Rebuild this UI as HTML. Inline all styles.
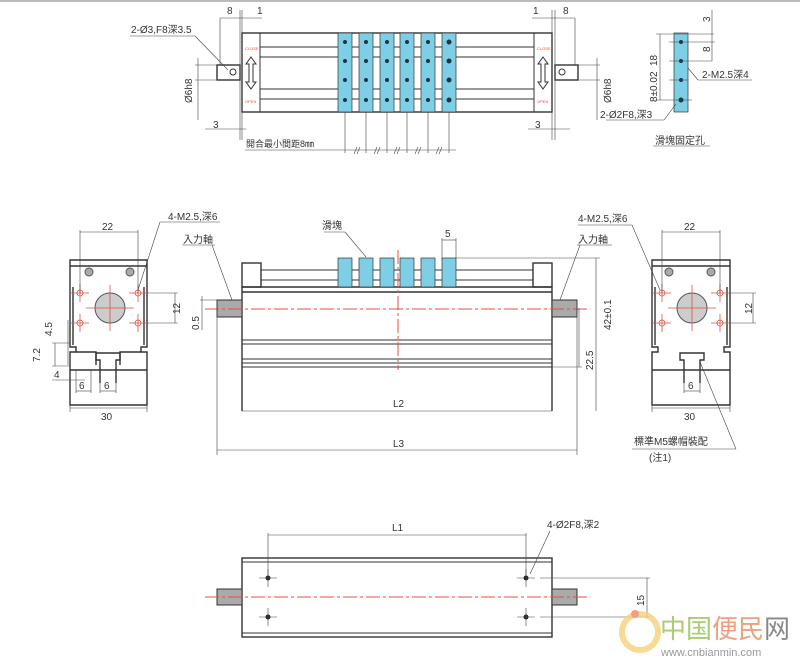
<!DOCTYPE html>
<html><head><meta charset="utf-8"><style>
html,body{margin:0;padding:0;background:#fff;}
svg{display:block;font-family:"Liberation Sans","Noto Sans CJK TC",sans-serif;}
.l{stroke:#333;stroke-width:1;fill:none}
.t{stroke:#444;stroke-width:.6;fill:none}
.b{stroke:#333;stroke-width:1.4;fill:none}
.c{stroke:#e05040;stroke-width:1;fill:none;stroke-dasharray:14 3 3 3}
.r{stroke:#e05040;stroke-width:.8;fill:none}
text{font-size:10px;fill:#333}
</style></head><body>
<svg width="800" height="664" viewBox="0 0 800 664">
<rect x="0" y="0" width="800" height="2" fill="#bbb"/>
<!-- ===== TOP VIEW ===== -->
<rect x="242" y="33" width="310" height="79" class="b"/>
<line x1="260" y1="33" x2="260" y2="112" class="l"/>
<line x1="534" y1="33" x2="534" y2="112" class="l"/>
<g class="l"><line x1="260" y1="47" x2="534" y2="47"/><line x1="260" y1="57" x2="534" y2="57"/><line x1="260" y1="89" x2="534" y2="89"/><line x1="260" y1="99" x2="534" y2="99"/></g>
<g fill="#7ecfe6" stroke="#333" stroke-width=".7">
<rect x="338" y="33" width="14" height="79"/><rect x="359" y="33" width="14" height="79"/><rect x="380" y="33" width="14" height="79"/><rect x="400" y="33" width="14" height="79"/><rect x="421" y="33" width="14" height="79"/><rect x="442" y="33" width="14" height="79"/>
</g>
<g fill="#234">
<circle cx="345" cy="42" r="2"/><circle cx="345" cy="61" r="2"/><circle cx="345" cy="80" r="2"/><circle cx="345" cy="100" r="2"/>
<circle cx="366" cy="42" r="2"/><circle cx="366" cy="61" r="2"/><circle cx="366" cy="80" r="2"/><circle cx="366" cy="100" r="2"/>
<circle cx="387" cy="42" r="2"/><circle cx="387" cy="61" r="2"/><circle cx="387" cy="80" r="2"/><circle cx="387" cy="100" r="2"/>
<circle cx="407" cy="42" r="2"/><circle cx="407" cy="61" r="2"/><circle cx="407" cy="80" r="2"/><circle cx="407" cy="100" r="2"/>
<circle cx="428" cy="42" r="2"/><circle cx="428" cy="61" r="2"/><circle cx="428" cy="80" r="2"/><circle cx="428" cy="100" r="2"/>
<circle cx="449" cy="42" r="2.5"/><circle cx="449" cy="61" r="2.5"/><circle cx="449" cy="80" r="2.5"/><circle cx="449" cy="100" r="2.5"/>
</g>
<!-- arrows open/close -->
<g class="l"><path d="M251 57 L256 64 L253 64 L253 82 L256 82 L251 89 L246 82 L249 82 L249 64 L246 64 Z"/>
<path d="M543 57 L548 64 L545 64 L545 82 L548 82 L543 89 L538 82 L541 82 L541 64 L538 64 Z"/></g>
<text x="245" y="50" style="font-size:4px;fill:#e05040">CLOSE</text><text x="245" y="103" style="font-size:4px;fill:#e05040">OPEN</text>
<text x="537" y="50" style="font-size:4px;fill:#e05040">CLOSE</text><text x="537" y="103" style="font-size:4px;fill:#e05040">OPEN</text>
<!-- knobs -->
<rect x="217" y="65" width="23" height="15" class="b"/><circle cx="233" cy="72" r="3" class="l"/>
<rect x="555" y="65" width="23" height="15" class="b"/><circle cx="562" cy="72" r="3" class="l"/>
<!-- top dims -->
<g class="t">
<line x1="220" y1="18" x2="220" y2="65"/><line x1="240" y1="10" x2="240" y2="140"/><line x1="242" y1="10" x2="242" y2="140"/><line x1="220" y1="18" x2="262" y2="18"/>
<line x1="555" y1="10" x2="555" y2="140"/><line x1="552" y1="10" x2="552" y2="140"/><line x1="575" y1="18" x2="575" y2="65"/><line x1="532" y1="18" x2="575" y2="18"/>
<line x1="195" y1="65" x2="217" y2="65"/><line x1="195" y1="80" x2="217" y2="80"/><line x1="198" y1="58" x2="198" y2="120"/>
<line x1="578" y1="65" x2="600" y2="65"/><line x1="578" y1="80" x2="600" y2="80"/><line x1="597" y1="58" x2="597" y2="120"/>
<line x1="205" y1="129" x2="246" y2="129"/><line x1="528" y1="129" x2="570" y2="129"/>
<line x1="130" y1="36" x2="195" y2="36"/><line x1="195" y1="36" x2="228" y2="70"/>
<line x1="245" y1="150" x2="456" y2="150"/>
<line x1="345" y1="112" x2="345" y2="153"/><line x1="366" y1="112" x2="366" y2="153"/><line x1="387" y1="112" x2="387" y2="153"/><line x1="407" y1="112" x2="407" y2="153"/><line x1="428" y1="112" x2="428" y2="153"/><line x1="449" y1="112" x2="449" y2="153"/>
</g>
<g class="t"><path d="M354 154 l3 -7 M357 154 l3 -7 M374 154 l3 -7 M377 154 l3 -7 M394 154 l3 -7 M397 154 l3 -7 M415 154 l3 -7 M418 154 l3 -7 M436 154 l3 -7 M439 154 l3 -7"/></g>
<text x="227" y="14">8</text><text x="257" y="14">1</text><text x="533" y="14">1</text><text x="563" y="14">8</text>
<text x="213" y="128">3</text><text x="535" y="128">3</text>
<text x="131" y="33">2-Ø3,F8深3.5</text>
<text x="246" y="147" style="font-size:9px">開合最小間距8㎜</text>
<text transform="translate(192,103) rotate(-90)">Ø6h8</text>
<text transform="translate(611,103) rotate(-90)">Ø6h8</text>
<!-- slider fixing hole -->
<rect x="674" y="33" width="14" height="79" fill="#7ecfe6" stroke="#333" stroke-width=".7"/>
<g fill="#234"><circle cx="681" cy="42" r="2"/><circle cx="681" cy="61" r="2"/><circle cx="681" cy="80" r="2"/><circle cx="681" cy="100" r="2.5"/></g>
<g class="t"><line x1="656" y1="34" x2="714" y2="34"/><line x1="669" y1="42" x2="715" y2="42"/><line x1="669" y1="61" x2="712" y2="61"/><line x1="669" y1="80" x2="688" y2="80"/><line x1="656" y1="100" x2="692" y2="100"/>
<line x1="660" y1="34" x2="660" y2="100"/><line x1="712" y1="10" x2="712" y2="61"/>
<line x1="688" y1="68" x2="698" y2="80"/><line x1="698" y1="80" x2="752" y2="80"/>
<line x1="606" y1="120" x2="664" y2="120"/><line x1="664" y1="120" x2="676" y2="104"/>
<line x1="653" y1="146" x2="710" y2="146"/></g>
<text transform="translate(710,22) rotate(-90)">3</text>
<text transform="translate(710,52) rotate(-90)">8</text>
<text transform="translate(657,66) rotate(-90)">18</text>
<text transform="translate(657,102) rotate(-90)">8±0.02</text>
<text x="702" y="78">2-M2.5深4</text>
<text x="600" y="118">2-Ø2F8,深3</text>
<text x="655" y="144">滑塊固定孔</text>
<!-- ===== FRONT VIEW ===== -->
<g class="b">
<rect x="242" y="263" width="19" height="24"/><rect x="533" y="263" width="19" height="24"/>
<line x1="242" y1="287" x2="552" y2="287"/><line x1="242" y1="292" x2="552" y2="292"/>
<line x1="242" y1="287" x2="242" y2="411"/><line x1="552" y1="287" x2="552" y2="411"/>
</g>
<g class="l"><line x1="261" y1="270" x2="533" y2="270"/><line x1="261" y1="280" x2="533" y2="280"/>
<line x1="242" y1="340" x2="552" y2="340"/><line x1="242" y1="344" x2="552" y2="344"/><line x1="242" y1="359" x2="552" y2="359"/><line x1="242" y1="363" x2="552" y2="363"/><line x1="242" y1="367" x2="552" y2="367"/></g>
<g fill="#7ecfe6" stroke="#333" stroke-width=".7">
<rect x="338" y="258" width="14" height="29"/><rect x="359" y="258" width="14" height="29"/><rect x="380" y="258" width="14" height="29"/><rect x="400" y="258" width="14" height="29"/><rect x="421" y="258" width="14" height="29"/><rect x="442" y="258" width="14" height="29"/>
</g>
<rect x="217" y="300" width="25" height="17" fill="#aaa" stroke="#333"/>
<rect x="552" y="300" width="25" height="17" fill="#aaa" stroke="#333"/>
<line x1="205" y1="309" x2="590" y2="309" class="c"/>
<line x1="398" y1="250" x2="398" y2="370" class="c"/>
<g class="t">
<line x1="442" y1="238" x2="442" y2="258"/><line x1="456" y1="238" x2="456" y2="258"/><line x1="442" y1="240" x2="456" y2="240"/>
<line x1="324" y1="232" x2="345" y2="232"/><line x1="345" y1="232" x2="366" y2="257"/>
<line x1="456" y1="258" x2="600" y2="258"/><line x1="596" y1="258" x2="596" y2="411"/>
<line x1="577" y1="309" x2="580" y2="309"/><line x1="579" y1="309" x2="579" y2="367"/><line x1="552" y1="367" x2="582" y2="367"/>
<line x1="577" y1="300" x2="577" y2="455"/><line x1="217" y1="300" x2="217" y2="455"/>
<line x1="242" y1="411" x2="552" y2="411"/><line x1="217" y1="450" x2="577" y2="450"/>
<line x1="182" y1="245" x2="215" y2="245"/><line x1="212" y1="245" x2="232" y2="300"/>
<line x1="577" y1="245" x2="612" y2="245"/><line x1="580" y1="245" x2="560" y2="300"/>
<line x1="200" y1="300" x2="217" y2="300"/><line x1="202" y1="296" x2="202" y2="330"/>
</g>
<text x="322" y="229">滑塊</text><text x="445" y="237">5</text>
<text x="183" y="243">入力軸</text><text x="578" y="243">入力軸</text>
<text x="393" y="407">L2</text><text x="393" y="447">L3</text>
<text transform="translate(593,370) rotate(-90)">22.5</text>
<text transform="translate(611,330) rotate(-90)">42±0.1</text>
<text transform="translate(199,330) rotate(-90)">0.5</text>
<!-- ===== LEFT END VIEW ===== -->
<g class="b">
<path d="M70 260 L147 260 L147 347 L141 347 L141 352 L147 352 L147 405 L70 405 L70 352 L76 352 L76 347 L70 347 Z"/>
<line x1="70" y1="266" x2="147" y2="266"/>
<path d="M73 287 L73 345 M144 287 L144 345"/>
<path d="M76 352 L96 352 L96 365 M120 365 L120 352 L141 352"/>
<path d="M100 383 L100 360 L96 360 L96 353 L120 353 L120 360 L116 360 L116 383"/>
<line x1="70" y1="370" x2="147" y2="370"/>
</g>
<circle cx="110" cy="308" r="15" fill="#ccc" stroke="#555"/>
<circle cx="89" cy="272" r="4" fill="#aaa" stroke="#555"/><circle cx="130" cy="272" r="4" fill="#aaa" stroke="#555"/>
<g class="r"><circle cx="80" cy="293" r="3"/><circle cx="138" cy="293" r="3"/><circle cx="80" cy="323" r="3"/><circle cx="138" cy="323" r="3"/>
<path d="M71 293h18M129 293h18M71 323h18M129 323h18M80 284v18M138 284v18M80 314v18M138 314v18M86 308h48M110 285v46"/></g>
<g class="t"><line x1="80" y1="230" x2="80" y2="293"/><line x1="138" y1="230" x2="138" y2="293"/><line x1="80" y1="232" x2="138" y2="232"/>
<line x1="147" y1="293" x2="178" y2="293"/><line x1="147" y1="323" x2="178" y2="323"/><line x1="175" y1="293" x2="175" y2="323"/>
<line x1="138" y1="290" x2="160" y2="222"/><line x1="160" y1="222" x2="220" y2="222"/>
<line x1="52" y1="343" x2="70" y2="343"/><line x1="52" y1="366" x2="70" y2="366"/><line x1="55" y1="343" x2="55" y2="366"/>
<line x1="52" y1="343" x2="52" y2="343"/><line x1="68" y1="320" x2="68" y2="365"/>
<line x1="52" y1="380" x2="85" y2="380"/>
<line x1="70" y1="405" x2="70" y2="412"/><line x1="147" y1="405" x2="147" y2="412"/><line x1="70" y1="408" x2="147" y2="408"/>
<line x1="76" y1="370" x2="76" y2="393"/><line x1="91" y1="370" x2="91" y2="393"/><line x1="76" y1="391" x2="91" y2="391"/>
<line x1="100" y1="383" x2="100" y2="393"/><line x1="116" y1="383" x2="116" y2="393"/><line x1="100" y1="391" x2="116" y2="391"/></g>
<text x="102" y="230">22</text><text x="168" y="220">4-M2.5,深6</text>
<text transform="translate(180,314) rotate(-90)">12</text>
<text transform="translate(52,336) rotate(-90)">4.5</text>
<text transform="translate(40,362) rotate(-90)">7.2</text>
<text x="54" y="378">4</text><text x="79" y="389">6</text><text x="104" y="389">6</text><text x="101" y="420">30</text>
<!-- ===== RIGHT END VIEW ===== -->
<g class="b">
<path d="M652 260 L730 260 L730 347 L724 347 L724 352 L730 352 L730 405 L652 405 L652 352 L658 352 L658 347 L652 347 Z"/>
<line x1="652" y1="266" x2="730" y2="266"/>
<path d="M655 287 L655 345 M727 287 L727 345"/>
<path d="M684 383 L684 360 L680 360 L680 353 L704 353 L704 360 L700 360 L700 383"/>
<line x1="652" y1="370" x2="730" y2="370"/>
</g>
<circle cx="692" cy="308" r="15" fill="#ccc" stroke="#555"/>
<circle cx="669" cy="272" r="4" fill="#aaa" stroke="#555"/><circle cx="711" cy="272" r="4" fill="#aaa" stroke="#555"/>
<g class="r"><circle cx="662" cy="293" r="3"/><circle cx="720" cy="293" r="3"/><circle cx="662" cy="323" r="3"/><circle cx="720" cy="323" r="3"/>
<path d="M653 293h18M711 293h18M653 323h18M711 323h18M662 284v18M720 284v18M662 314v18M720 314v18M668 308h48M692 285v46"/></g>
<g class="t"><line x1="662" y1="230" x2="662" y2="293"/><line x1="720" y1="230" x2="720" y2="293"/><line x1="662" y1="232" x2="720" y2="232"/>
<line x1="730" y1="293" x2="756" y2="293"/><line x1="730" y1="323" x2="756" y2="323"/><line x1="753" y1="293" x2="753" y2="323"/>
<line x1="578" y1="225" x2="632" y2="225"/><line x1="632" y1="225" x2="660" y2="290"/>
<line x1="652" y1="405" x2="652" y2="412"/><line x1="730" y1="405" x2="730" y2="412"/><line x1="652" y1="408" x2="730" y2="408"/>
<line x1="684" y1="383" x2="684" y2="393"/><line x1="700" y1="383" x2="700" y2="393"/><line x1="684" y1="391" x2="700" y2="391"/>
<line x1="700" y1="362" x2="736" y2="449"/><line x1="632" y1="449" x2="736" y2="449"/></g>
<text x="684" y="230">22</text><text x="578" y="222">4-M2.5,深6</text>
<text transform="translate(752,314) rotate(-90)">12</text>
<text x="688" y="389">6</text><text x="684" y="420">30</text>
<text x="634" y="445">標準M5螺帽裝配</text><text x="649" y="461">(注1)</text>
<!-- ===== BOTTOM VIEW ===== -->
<rect x="242" y="558" width="310" height="79" class="b"/>
<line x1="242" y1="562" x2="552" y2="562" class="l"/><line x1="242" y1="633" x2="552" y2="633" class="l"/>
<rect x="217" y="589" width="25" height="16" fill="#aaa" stroke="#333"/>
<rect x="552" y="589" width="25" height="16" fill="#aaa" stroke="#333"/>
<line x1="205" y1="597" x2="590" y2="597" class="c"/>
<g fill="#222"><circle cx="268" cy="578" r="2.5"/><circle cx="526" cy="578" r="2.5"/><circle cx="268" cy="617" r="2.5"/><circle cx="526" cy="617" r="2.5"/></g>
<g class="t"><path d="M259 578h18M517 578h18M259 617h18M517 617h18M268 569v18M526 569v18M268 608v18M526 608v18"/>
<line x1="268" y1="533" x2="268" y2="575"/><line x1="526" y1="533" x2="526" y2="575"/><line x1="268" y1="535" x2="526" y2="535"/>
<line x1="530" y1="574" x2="550" y2="531"/><line x1="540" y1="578" x2="650" y2="578"/><line x1="540" y1="617" x2="650" y2="617"/><line x1="647" y1="578" x2="647" y2="617"/></g>
<text x="392" y="531">L1</text><text x="547" y="528">4-Ø2F8,深2</text>
<text transform="translate(644,606) rotate(-90)">15</text>
<!-- watermark -->
<circle cx="640" cy="632" r="18" fill="none" stroke="#f5d27a" stroke-width="6" opacity=".8"/>
<circle cx="635" cy="614" r="4" fill="#f0a080"/>
<text x="660" y="638" style="font-size:26px;fill:#a8cc70">中国</text>
<text x="712" y="638" style="font-size:26px;fill:#eba080">便民</text>
<text x="764" y="638" style="font-size:26px;fill:#888">网</text>
<text x="661" y="656" style="font-size:11px;fill:#999">www.cnbianmin.com</text>
</svg>
</body></html>
